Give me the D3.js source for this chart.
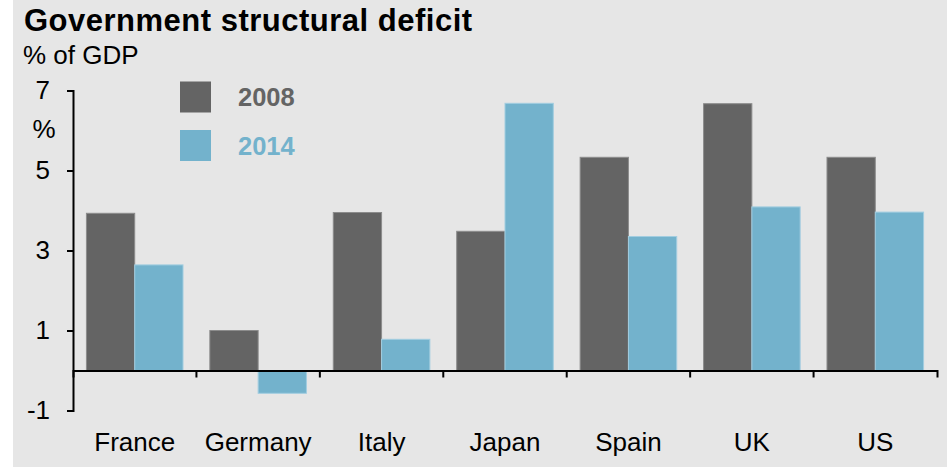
<!DOCTYPE html>
<html>
<head>
<meta charset="utf-8">
<script src="https://cdn.jsdelivr.net/npm/d3@7"></script>
<style>
  html, body { margin: 0; padding: 0; background: #ffffff; }
  svg { display: block; font-family: "Liberation Sans", Arial, Helvetica, sans-serif; }
</style>
</head>
<body>
<svg id="chart" width="947" height="467"></svg>
<script>
// Structural deficit by country, % of GDP
const countries = ["France", "Germany", "Italy", "Japan", "Spain", "UK", "US"];
const years = ["2008", "2014"];
const deficit2008 = [3.93, 1.0, 3.95, 3.48, 5.33, 6.67, 5.33];
const deficit2014 = [2.64, -0.57, 0.78, 6.68, 3.35, 4.09, 3.96];
const yTicks = [-1, 1, 3, 5, 7];
const colors = { "2008": "#646464", "2014": "#73b2cc" };
const edges = { "2008": "#8c8c8c", "2014": "#a2cde0" };

const rows = countries.map((c, i) => ({ country: c, "2008": deficit2008[i], "2014": deficit2014[i] }));

const svg = d3.select("#chart");
const W = 947, H = 467;

// panel background with a white strip on the left
svg.append("rect").attr("x", 0).attr("y", 0).attr("width", W).attr("height", H).attr("fill", "#ffffff");
svg.append("rect").attr("x", 13).attr("y", 0).attr("width", W - 13).attr("height", H).attr("fill", "#e6e6e6");

const plotLeft = 73, plotRight = 937, plotTop = 90.5, plotBottom = 410.5;

const x0 = d3.scaleBand().domain(countries).range([plotLeft, plotRight]).paddingInner(0).paddingOuter(0);
const x1 = d3.scaleBand().domain(years).range([0, x0.bandwidth()]).paddingInner(0).paddingOuter(0.278);
const y = d3.scaleLinear().domain([-1, 7]).range([plotBottom, plotTop]);

// bars
const groups = svg.append("g").selectAll("g").data(rows).join("g")
  .attr("transform", d => `translate(${x0(d.country)},0)`);
groups.selectAll("rect").data(d => years.map(k => ({ key: k, value: d[k] }))).join("rect")
  .attr("x", d => x1(d.key))
  .attr("width", x1.bandwidth())
  .attr("y", d => y(Math.max(0, d.value)))
  .attr("height", d => Math.abs(y(d.value) - y(0)))
  .attr("fill", d => colors[d.key])
  .attr("stroke", d => edges[d.key])
  .attr("stroke-width", 1);

// y axis (plain hyphen for negative labels)
const yAxis = svg.append("g").attr("transform", `translate(${plotLeft},0)`)
  .call(d3.axisLeft(y).tickValues(yTicks).tickFormat(d => String(d)).tickSize(6).tickSizeOuter(6).tickPadding(17));
yAxis.select(".domain").attr("stroke", "#000").attr("stroke-width", 2);
yAxis.selectAll(".tick line").attr("stroke", "#000").attr("stroke-width", 2);
yAxis.selectAll(".tick text").attr("font-size", 26).attr("fill", "#000")
  .attr("font-family", "'Liberation Sans', Arial, sans-serif");

// x axis: line at zero with labels centred in bands
const xAxis = svg.append("g").attr("transform", `translate(0,${y(0)})`)
  .call(d3.axisBottom(x0).tickSize(0).tickSizeOuter(7).tickPadding(62));
xAxis.select(".domain").attr("stroke", "#000").attr("stroke-width", 2);
xAxis.selectAll(".tick text").attr("font-size", 26).attr("fill", "#000")
  .attr("font-family", "'Liberation Sans', Arial, sans-serif");

// tick marks on the category boundaries
const bounds = countries.slice(1).map(c => x0(c));
xAxis.selectAll("line.bound").data(bounds).join("line")
  .attr("class", "bound")
  .attr("x1", d => d).attr("x2", d => d)
  .attr("y1", 0).attr("y2", 7)
  .attr("stroke", "#000").attr("stroke-width", 2);

// unit label beside the y axis
svg.append("text").attr("x", 44).attr("y", 138).attr("text-anchor", "middle")
  .attr("font-size", 26).attr("fill", "#000").text("%");

// title and subtitle
svg.append("text").attr("x", 24).attr("y", 31)
  .attr("font-size", 31).attr("font-weight", "bold").attr("letter-spacing", 0.5).attr("fill", "#000")
  .text("Government structural deficit");
svg.append("text").attr("x", 23).attr("y", 64)
  .attr("font-size", 26).attr("fill", "#000")
  .text("% of GDP");

// legend
const legend = svg.append("g");
years.forEach((k, i) => {
  const g = legend.append("g").attr("transform", `translate(180,${81.5 + i * 48.5})`);
  g.append("rect").attr("width", 31).attr("height", 31).attr("fill", colors[k]);
  g.append("text").attr("x", 58).attr("y", 24.5)
    .attr("font-size", 25.5).attr("font-weight", "bold").attr("fill", colors[k]).text(k);
});
</script>
</body>
</html>
